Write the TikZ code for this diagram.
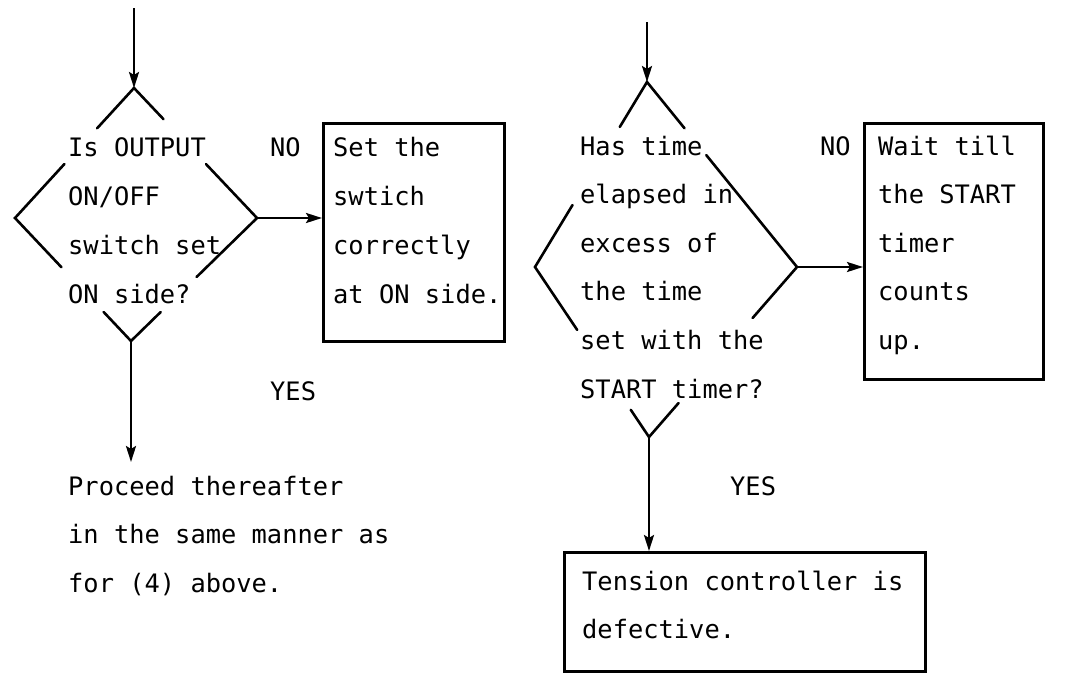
\documentclass[tikz,border=0pt]{standalone}
\usepackage{fontspec}
\setmonofont{DejaVu Sans Mono}
\usetikzlibrary{arrows.meta,calc}
\tikzset{
  txt/.style={anchor=base west, inner sep=0pt, font=\ttfamily\fontsize{25.4}{30}\selectfont},
  edgest/.style={line width=2.6pt, line cap=round},
  arr/.style={line width=2.6pt, -{Stealth[length=16pt,width=10pt,inset=3pt]}},
  boxst/.style={draw, line width=2.6pt, inner sep=0pt, anchor=north west},
}
\begin{document}
\begin{tikzpicture}[x=1pt,y=-1pt]
\useasboundingbox (0,0) rectangle (1080,675);

% ---------- left decision ----------
\coordinate (s1) at (134,8);
\coordinate (d1t) at (134,88);
\coordinate (d1l) at (15,218);
\coordinate (d1r) at (257,218);
\coordinate (d1b) at (131,341);
\coordinate (e1) at (131,462);

\draw[edgest] ($(d1t)!0.31!(d1l)$) -- (d1t) -- ($(d1t)!0.24!(d1r)$);
\draw[edgest] ($(d1l)!0.415!(d1t)$) -- (d1l) -- ($(d1l)!0.40!(d1b)$);
\draw[edgest] ($(d1r)!0.415!(d1t)$) -- (d1r) -- ($(d1r)!0.48!(d1b)$);
\draw[edgest] ($(d1b)!0.236!(d1l)$) -- (d1b) -- ($(d1b)!0.236!(d1r)$);

\foreach \t [count=\i] in {Is OUTPUT, ON/OFF, switch set, ON side?}
  \node[txt] (q1l\i) at (68,{156+49*(\i-1)}) {\t};
\node[txt] (no1) at (270,156) {NO};
\node[txt] (yes1) at (270,400) {YES};

\node[boxst, minimum width=181pt, minimum height=218pt] (b1) at (322,122) {};
\foreach \t [count=\i] in {Set the, swtich, correctly, at ON side.}
  \node[txt] (b1l\i) at (333,{156+49*(\i-1)}) {\t};

\node[txt] (p1) at (68,495) {Proceed thereafter};
\node[txt] (p2) at (68,543) {in the same manner as};
\node[txt] (p3) at (68,592) {for (4) above.};

\draw[arr] (s1) -- (d1t);
\draw[arr] (d1r) -- (d1r -| b1.west);
\draw[arr] (d1b) -- (e1);

% ---------- right decision ----------
\coordinate (s2) at (647,22);
\coordinate (d2t) at (647,82);
\coordinate (d2l) at (535,267);
\coordinate (d2r) at (797,267);
\coordinate (d2b) at (649,437);

\draw[edgest] ($(d2t)!0.243!(d2l)$) -- (d2t) -- ($(d2t)!0.25!(d2r)$);
\draw[edgest] ($(d2l)!0.335!(d2t)$) -- (d2l) -- ($(d2l)!0.37!(d2b)$);
\draw[edgest] ($(d2r)!0.605!(d2t)$) -- (d2r) -- ($(d2r)!0.30!(d2b)$);
\draw[edgest] ($(d2b)!0.16!(d2l)$) -- (d2b) -- ($(d2b)!0.20!(d2r)$);

\foreach \t [count=\i] in {Has time, elapsed in, excess of, the time, set with the, START timer?}
  \node[txt] (q2l\i) at (580,{155+48.6*(\i-1)}) {\t};
\node[txt] (no2) at (820,155) {NO};
\node[txt] (yes2) at (730,495) {YES};

\node[boxst, minimum width=179pt, minimum height=256pt] (b2) at (863,122) {};
\foreach \t [count=\i] in {Wait till, the START, timer, counts, up.}
  \node[txt] (b2l\i) at (878,{155+48.6*(\i-1)}) {\t};

\node[boxst, minimum width=361pt, minimum height=119pt] (b3) at (563,551) {};
\node[txt] (b3l1) at (582,590) {Tension controller is};
\node[txt] (b3l2) at (582,638) {defective.};

\draw[arr] (s2) -- (d2t);
\draw[arr] (d2r) -- (d2r -| b2.west);
\draw[arr] (d2b) -- (d2b |- b3.north);
\end{tikzpicture}
\end{document}
